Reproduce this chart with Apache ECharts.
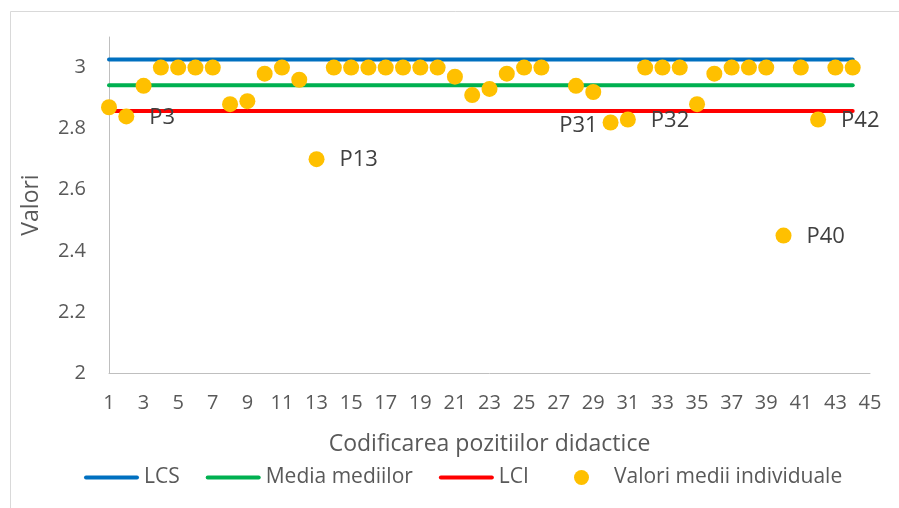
<!DOCTYPE html>
<html>
<head>
<meta charset="utf-8">
<script src="https://cdn.jsdelivr.net/npm/echarts@6/dist/echarts.min.js"></script>
<style>
html,body{margin:0;padding:0;background:#fff;}
#chart{width:899px;height:508px;}
</style>
</head>
<body>
<div id="chart"></div>
<script>
// Codification of didactic positions (x) and individual mean values (null = no point)
const positions = [1,2,3,4,5,6,7,8,9,10,11,12,13,14,15,16,17,18,19,20,21,22,23,24,25,26,27,28,29,30,31,32,33,34,35,36,37,38,39,40,41,42,43,44];
const individualValues = [2.87,2.84,2.94,3,3,3,3,2.88,2.89,2.98,3,2.96,2.70,3,3,3,3,3,3,3,2.97,2.91,2.93,2.98,3,3,null,2.94,2.92,2.82,2.83,3,3,3,2.88,2.98,3,3,3,2.45,3,2.83,3,3];
// Labelled points
const labelPositions = [2, 13, 30, 31, 40, 42];
const labelTexts = ['P3', 'P13', 'P31', 'P32', 'P40', 'P42'];
const labelSides = ['right', 'right', 'left', 'right', 'right', 'right'];
// Control lines
const lineStart = 1, lineEnd = 44;
const lcsValue = 3.026;
const mediaValue = 2.942;
const lciValue = 2.858;
// Axis ticks
const xMin = 1, xMax = 45;
const yMin = 2, yMax = 3.1, yInterval = 0.2;

const font = '"Open Sans", sans-serif';
const textColor = '#595959';
const lineIcon = 'path://M2,0H53A2,2 0 0 1 53,4H2A2,2 0 0 1 2,0Z';

const scatterData = [];
positions.forEach((p, i) => {
  const v = individualValues[i];
  if (v === null) return;
  const li = labelPositions.indexOf(p);
  const item = { value: [p, v] };
  if (li >= 0) {
    const side = labelSides[li];
    item.label = {
      show: true,
      formatter: labelTexts[li],
      position: side,
      distance: side === 'left' ? 5 : 15,
      offset: [0, side === 'left' ? 3 : 1],
      fontSize: 22,
      fontFamily: font,
      color: '#404040'
    };
  }
  scatterData.push(item);
});

function hLine(name, value, color) {
  return {
    name: name,
    type: 'line',
    data: [[lineStart, value], [lineEnd, value]],
    symbol: 'none',
    lineStyle: { color: color, width: 4, cap: 'round' },
    itemStyle: { color: color },
    z: 2,
    silent: true
  };
}

const legendText = { fontSize: 21, fontFamily: font, color: textColor };

const chart = echarts.init(document.getElementById('chart'), null, { renderer: 'canvas' });
chart.setOption({
  animation: false,
  backgroundColor: '#fff',
  graphic: [{
    type: 'rect',
    shape: { x: 10.5, y: 11.5, width: 900, height: 510 },
    style: { fill: 'none', stroke: '#D9D9D9', lineWidth: 1 },
    silent: true
  }],
  grid: { left: 109, right: 29, top: 37, bottom: 135, containLabel: false },
  legend: [{
    left: 84,
    top: 467,
    padding: 0,
    itemWidth: 55,
    itemHeight: 14,
    itemGap: 26,
    textStyle: legendText,
    data: [
      { name: 'LCS', icon: lineIcon },
      { name: 'Media mediilor', icon: lineIcon },
      { name: 'LCI', icon: lineIcon }
    ]
  }, {
    left: 574,
    top: 467,
    padding: 0,
    itemWidth: 55,
    itemHeight: 15,
    textStyle: legendText,
    data: [{ name: 'Valori medii individuale', icon: 'circle' }]
  }],
  xAxis: {
    type: 'value',
    min: xMin,
    max: xMax,
    interval: 1,
    name: 'Codificarea pozitiilor didactice',
    nameLocation: 'middle',
    nameGap: 60,
    nameTextStyle: { fontSize: 23, fontFamily: font, color: textColor },
    axisLine: { show: true, lineStyle: { color: '#BFBFBF', width: 1 } },
    axisTick: { show: false },
    splitLine: { show: false },
    axisLabel: {
      margin: 20,
      fontSize: 20,
      fontFamily: font,
      color: textColor,
      formatter: v => (v % 2 === 1 ? String(v) : '')
    }
  },
  yAxis: {
    type: 'value',
    min: yMin,
    max: yMax,
    interval: yInterval,
    name: 'Valori',
    nameLocation: 'middle',
    nameGap: 66,
    nameTextStyle: { fontSize: 23, fontFamily: font, color: textColor },
    axisLine: { show: true, lineStyle: { color: '#BFBFBF', width: 1 } },
    axisTick: { show: false },
    splitLine: { show: false },
    axisLabel: {
      margin: 23,
      fontSize: 20,
      fontFamily: font,
      color: textColor,
      showMaxLabel: false,
      formatter: v => (Math.abs(v - 3.1) < 1e-6 ? '' : String(Math.round(v * 10) / 10))
    }
  },
  series: [
    hLine('LCS', lcsValue, '#0070C0'),
    hLine('Media mediilor', mediaValue, '#00B050'),
    hLine('LCI', lciValue, '#FF0000'),
    {
      name: 'Valori medii individuale',
      type: 'scatter',
      symbol: 'circle',
      symbolSize: 16,
      itemStyle: { color: '#FFC000', opacity: 1 },
      data: scatterData,
      z: 5
    }
  ]
});
</script>
</body>
</html>
